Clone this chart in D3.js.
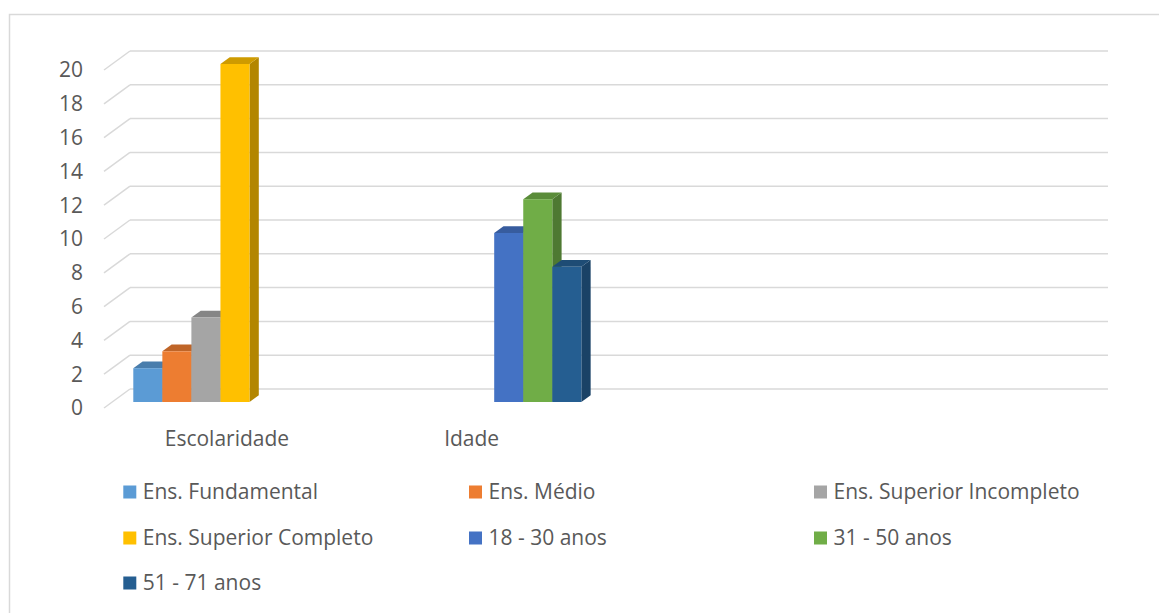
<!DOCTYPE html>
<html>
<head>
<meta charset="utf-8">
<script src="https://cdn.jsdelivr.net/npm/d3@7"></script>
<style>
  html, body { margin: 0; padding: 0; background: #fff; }
  svg { display: block; }
  text { font-family: "Open Sans", "Noto Sans", sans-serif; fill: #595959; }
</style>
</head>
<body>
<svg id="chart" width="1159" height="613"></svg>
<script>
// ---- data ----
const categories = ["Escolaridade", "Idade", "", ""];
const seriesNames = ["Ens. Fundamental", "Ens. Médio", "Ens. Superior Incompleto",
  "Ens. Superior Completo", "18 - 30 anos", "31 - 50 anos", "51 - 71 anos"];
const seriesColors = ["#5B9BD5", "#ED7D31", "#A5A5A5", "#FFC000", "#4472C4", "#70AD47", "#255E91"];
const escolaridadeValues = [2, 3, 5, 20, null, null, null];
const idadeValues = [null, null, null, null, 10, 12, 8];
const yTickValues = [0, 2, 4, 6, 8, 10, 12, 14, 16, 18, 20];

// ---- layout ----
const svg = d3.select("#chart");
const W = 1159, H = 613;
const FS = 21;
const wallLeft = 130, wallRight = 1108;
const depthDX = -26, depthDY = 19;        // back wall -> front of floor
const barDX = 9.3, barDY = -6.8;          // bar front -> bar back
const barFrontShift = 13;                 // bar front baseline below back-wall baseline

const yBack = d3.scaleLinear().domain([0, 20]).range([389, 51]);
const yBar = d3.scaleLinear().domain([0, 20]).range([389 + barFrontShift, 51 + barFrontShift]);

const catIdx = d3.range(categories.length);
const x0 = d3.scaleBand().domain(catIdx).range([104.6, 104.6 + 4 * 244.7]);
const x1 = d3.scaleBand().domain(seriesNames).range([28.7, 28.7 + 7 * 29.05]);

// border (top + left)
svg.append("path")
  .attr("d", `M9.5,${H} L9.5,14.5 L${W},14.5`)
  .attr("fill", "none").attr("stroke", "#D9D9D9").attr("stroke-width", 1.5);

// gridlines: back wall + left side wall
const grid = svg.append("g");
yTickValues.forEach(v => {
  const yb = yBack(v);
  grid.append("line")
    .attr("x1", wallLeft).attr("x2", wallRight).attr("y1", yb).attr("y2", yb)
    .attr("stroke", "#D9D9D9").attr("stroke-width", 1.5);
  grid.append("line")
    .attr("x1", wallLeft).attr("y1", yb)
    .attr("x2", wallLeft + depthDX).attr("y2", yb + depthDY)
    .attr("stroke", "#D9D9D9").attr("stroke-width", 1.5);
});

// y tick labels
svg.append("g").selectAll("text").data(yTickValues).join("text")
  .attr("x", 83).attr("y", d => yBack(d) + depthDY)
  .attr("dy", "0.35em")
  .attr("text-anchor", "end")
  .attr("font-size", FS)
  .text(d => d);

// category labels
svg.append("g").selectAll("text").data(catIdx).join("text")
  .attr("x", i => x0(i) + x0.bandwidth() / 2)
  .attr("y", 446)
  .attr("text-anchor", "middle")
  .attr("font-size", FS)
  .text(i => categories[i]);

// bars
const valuesByCategory = [escolaridadeValues, idadeValues, null, null];
const bars = [];
catIdx.forEach(ci => {
  const vals = valuesByCategory[ci];
  if (!vals) return;
  vals.forEach((v, i) => {
    if (v === null) return;
    bars.push({ cat: ci, name: seriesNames[i], color: seriesColors[i], value: v });
  });
});

const gBars = svg.append("g");
bars.forEach(b => {
  const xl = x0(b.cat) + x1(b.name);
  const xr = xl + x1.bandwidth();
  const yt = yBar(b.value);
  const yb = yBar(0);
  const base = d3.color(b.color);
  const g = gBars.append("g");
  g.append("path")
    .attr("d", `M${xr},${yt} L${xr + barDX},${yt + barDY} L${xr + barDX},${yb + barDY} L${xr},${yb} Z`)
    .attr("fill", base.darker(1.0));
  g.append("path")
    .attr("d", `M${xl},${yt} L${xl + barDX},${yt + barDY} L${xr + barDX},${yt + barDY} L${xr},${yt} Z`)
    .attr("fill", base.darker(0.6));
  g.append("rect")
    .attr("x", xl).attr("y", yt)
    .attr("width", x1.bandwidth()).attr("height", yb - yt)
    .attr("fill", b.color);
});

// legend
const legendCols = [123.3, 469, 814];
const legendRows = [491, 537, 582];
const legend = svg.append("g");
seriesNames.forEach((name, i) => {
  const cx = legendCols[i % 3];
  const cy = legendRows[Math.floor(i / 3)];
  legend.append("rect")
    .attr("x", cx).attr("y", cy - 5.5)
    .attr("width", 13).attr("height", 13)
    .attr("fill", seriesColors[i]);
  legend.append("text")
    .attr("x", cx + 19.5).attr("y", cy + 8)
    .attr("font-size", FS)
    .text(name);
});
</script>
</body>
</html>
